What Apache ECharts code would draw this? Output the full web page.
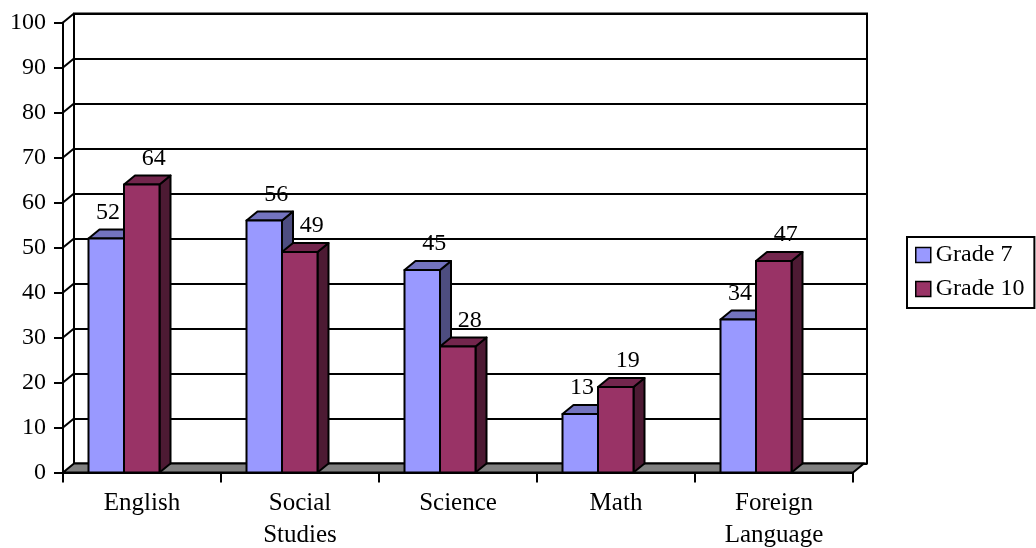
<!DOCTYPE html>
<html>
<head>
<meta charset="utf-8">
<script src="https://cdn.jsdelivr.net/npm/echarts@6/dist/echarts.min.js"></script>
<style>
  html, body { margin: 0; padding: 0; background: #fff; }
  #chart { width: 1036px; height: 548px; }
</style>
</head>
<body>
<div id="chart"></div>
<script>
// Survey results by subject
const categories = ['English', 'Social Studies', 'Science', 'Math', 'Foreign Language'];
const grade7 = [52, 56, 45, 13, 34];
const grade10 = [64, 49, 28, 19, 47];
const seriesNames = ['Grade 7', 'Grade 10'];
const yTicks = [0, 10, 20, 30, 40, 50, 60, 70, 80, 90, 100];

const FONT = "'Liberation Serif', 'Times New Roman', serif";
const DX = 11;   // depth offset to the right
const DY = 9;    // depth offset upward

// column placement inside a category band (fractions of the band width)
const G7_OFFSET = -0.3386;
const G10_OFFSET = -0.1139;
const BAR_WIDTH = 0.2247;

const palette = {
  g7: { front: '#9999FF', top: '#7373BF', side: '#4D4D80' },
  g10: { front: '#993366', top: '#73264D', side: '#4D1A33' }
};

function barBox(api, idx, value, offsetRatio) {
  const band = api.size([1, 0])[0];
  const top = api.coord([idx, value]);
  const base = api.coord([idx, 0]);
  return {
    x0: top[0] + offsetRatio * band,
    w: BAR_WIDTH * band,
    yTop: top[1],
    yBot: base[1]
  };
}

// Draws one 3D column: front, top and side faces
function barRenderer(offsetRatio, colors) {
  return function (params, api) {
    const b = barBox(api, api.value(0), api.value(1), offsetRatio);
    const x0 = b.x0, w = b.w, yTop = b.yTop, yBot = b.yBot;
    const edge = { stroke: '#000', lineWidth: 2, lineJoin: 'round' };
    return {
      type: 'group',
      children: [
        {
          type: 'polygon',
          shape: { points: [[x0 + w, yBot], [x0 + w + DX, yBot - DY], [x0 + w + DX, yTop - DY], [x0 + w, yTop]] },
          style: Object.assign({ fill: colors.side }, edge)
        },
        {
          type: 'polygon',
          shape: { points: [[x0, yTop], [x0 + DX, yTop - DY], [x0 + w + DX, yTop - DY], [x0 + w, yTop]] },
          style: Object.assign({ fill: colors.top }, edge)
        },
        {
          type: 'rect',
          shape: { x: x0, y: yTop, width: w, height: yBot - yTop },
          style: Object.assign({ fill: colors.front }, edge)
        }
      ]
    };
  };
}

// Value labels, kept clear of the neighbouring taller column
function labelRenderer(offsetRatio, values, neighbour, neighbourOffset) {
  return function (params, api) {
    const i = api.value(0);
    const v = api.value(1);
    const b = barBox(api, i, v, offsetRatio);
    const text = String(v);
    const halfW = echarts.format.getTextRect
      ? echarts.format.getTextRect(text, '24px ' + FONT).width / 2
      : 12;
    let x = b.x0 + b.w / 2 + 12;
    if (neighbour && neighbour[i] > v) {
      const nb = barBox(api, i, neighbour[i], neighbourOffset);
      x = Math.min(x, nb.x0 - halfW - 4);
    }
    return {
      type: 'text',
      x: x,
      y: b.yTop - 26,
      style: {
        text: text,
        font: '24px ' + FONT,
        fill: '#000',
        align: 'center',
        verticalAlign: 'middle'
      }
    };
  };
}

// Floor slab and the short connectors between the front axis and the back wall
function frameRenderer(params, api) {
  const cs = params.coordSys;
  const v = api.value(1);
  const y = api.coord([0, v])[1];
  if (v === 0) {
    const xl = cs.x, xr = cs.x + cs.width;
    return {
      type: 'polygon',
      shape: { points: [[xl, y], [xr, y], [xr + DX, y - DY], [xl + DX, y - DY]] },
      style: { fill: '#808080', stroke: '#000', lineWidth: 2, lineJoin: 'round' }
    };
  }
  return {
    type: 'line',
    shape: { x1: cs.x, y1: y, x2: cs.x + DX, y2: y - DY },
    style: { stroke: '#000', lineWidth: 2 }
  };
}

const chart = echarts.init(document.getElementById('chart'), null, { renderer: 'canvas' });

chart.setOption({
  backgroundColor: '#fff',
  animation: false,
  textStyle: { fontFamily: FONT },
  legend: {
    data: seriesNames,
    orient: 'vertical',
    left: 907,
    top: 237,
    padding: [6, 10, 7, 8],
    itemGap: 10,
    itemWidth: 15,
    itemHeight: 15,
    icon: 'rect',
    borderColor: '#000',
    borderWidth: 2,
    itemStyle: { borderColor: '#000', borderWidth: 1.5 },
    textStyle: { fontSize: 24, color: '#000', fontFamily: FONT },
    selectedMode: false
  },
  grid: [
    // front plane: axes and columns
    { left: 63, right: 183, top: 22.5, bottom: 75.5, containLabel: false, outerBoundsMode: 'none' },
    // back wall with its gridlines
    { left: 74, right: 169, top: 13.5, bottom: 84.5, containLabel: false, outerBoundsMode: 'none',
      show: true, borderColor: '#000', borderWidth: 2, backgroundColor: 'transparent' }
  ],
  xAxis: [
    {
      type: 'category',
      gridIndex: 0,
      data: categories,
      boundaryGap: true,
      axisLine: { show: true, lineStyle: { color: '#000', width: 2 } },
      axisTick: { show: true, length: 10, interval: 0, lineStyle: { color: '#000', width: 2 } },
      axisLabel: {
        interval: 0,
        margin: 15,
        fontSize: 25,
        lineHeight: 32,
        color: '#000',
        fontFamily: FONT,
        formatter: function (v) { return v.replace(' ', '\n'); }
      },
      splitLine: { show: false }
    },
    {
      type: 'value',
      gridIndex: 1,
      min: 0,
      max: 1,
      show: false
    }
  ],
  yAxis: [
    {
      type: 'value',
      gridIndex: 0,
      min: 0,
      max: 100,
      interval: 10,
      axisLine: { show: true, lineStyle: { color: '#000', width: 2 } },
      axisTick: { show: true, length: 9, lineStyle: { color: '#000', width: 2 } },
      axisLabel: { margin: 17, fontSize: 24, color: '#000', fontFamily: FONT },
      splitLine: { show: false }
    },
    {
      type: 'value',
      gridIndex: 1,
      min: 0,
      max: 100,
      interval: 10,
      axisLine: { show: false },
      axisTick: { show: false },
      axisLabel: { show: false },
      splitLine: { show: true, lineStyle: { color: '#000', width: 2 } }
    }
  ],
  series: [
    {
      type: 'custom',
      name: 'frame',
      xAxisIndex: 0,
      yAxisIndex: 0,
      silent: true,
      z: 1,
      renderItem: frameRenderer,
      data: yTicks.map(function (v) { return [0, v]; }),
      encode: { x: 0, y: 1 }
    },
    {
      type: 'custom',
      name: seriesNames[0],
      xAxisIndex: 0,
      yAxisIndex: 0,
      z: 3,
      itemStyle: { color: palette.g7.front },
      renderItem: barRenderer(G7_OFFSET, palette.g7),
      data: grade7.map(function (v, i) { return [i, v]; }),
      encode: { x: 0, y: 1 }
    },
    {
      type: 'custom',
      name: seriesNames[1],
      xAxisIndex: 0,
      yAxisIndex: 0,
      z: 4,
      itemStyle: { color: palette.g10.front },
      renderItem: barRenderer(G10_OFFSET, palette.g10),
      data: grade10.map(function (v, i) { return [i, v]; }),
      encode: { x: 0, y: 1 }
    },
    {
      type: 'custom',
      name: 'labels7',
      xAxisIndex: 0,
      yAxisIndex: 0,
      silent: true,
      z: 6,
      renderItem: labelRenderer(G7_OFFSET, grade7, grade10, G10_OFFSET),
      data: grade7.map(function (v, i) { return [i, v]; }),
      encode: { x: 0, y: 1 }
    },
    {
      type: 'custom',
      name: 'labels10',
      xAxisIndex: 0,
      yAxisIndex: 0,
      silent: true,
      z: 6,
      renderItem: labelRenderer(G10_OFFSET, grade10, null, 0),
      data: grade10.map(function (v, i) { return [i, v]; }),
      encode: { x: 0, y: 1 }
    }
  ]
});
</script>
</body>
</html>
